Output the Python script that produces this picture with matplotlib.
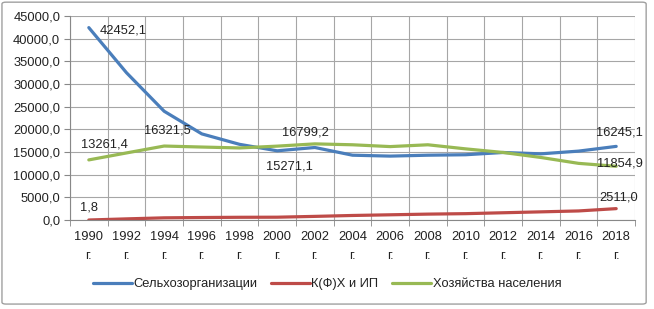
import matplotlib
matplotlib.use('Agg')
import matplotlib.pyplot as plt
from matplotlib.patches import FancyBboxPatch
import numpy as np

years = ['1990', '1992', '1994', '1996', '1998', '2000', '2002', '2004',
         '2006', '2008', '2010', '2012', '2014', '2016', '2018']
agro_orgs = [42452.1, 32500, 24000, 19000, 16700, 15271.1, 16000, 14300,
             14100, 14300, 14400, 14900, 14600, 15200, 16245.1]
farms = [1.8, 250, 480, 550, 600, 620, 800, 1000,
         1150, 1300, 1400, 1600, 1800, 2000, 2511.0]
households = [13261.4, 14800, 16321.5, 16100, 15900, 16300, 16799.2, 16600,
              16200, 16600, 15700, 14900, 13800, 12500, 11854.9]

names = ['Сельхозорганизации', 'К(Ф)Х и ИП', 'Хозяйства населения']
colors = ['#4a7ebb', '#be4b48', '#98b954']

plt.rcParams['font.family'] = ['Liberation Sans', 'DejaVu Sans']
TXT = '#222222'
fs = 9.3

fig = plt.figure(figsize=(6.54, 3.09), dpi=100)
ax = fig.add_axes([0.107, 0.288, 0.864, 0.66])

x = np.arange(len(years))
for vals, name, c in zip([agro_orgs, farms, households], names, colors):
    ax.plot(x, vals, color=c, linewidth=2.3, label=name,
            solid_joinstyle='round', solid_capstyle='round')

ax.set_xlim(-0.5, len(years) - 0.5)
ax.set_ylim(0, 45000)
ax.set_yticks(np.arange(0, 45001, 5000))
ax.set_yticklabels([f'{v:.1f}'.replace('.', ',') for v in np.arange(0, 45001, 5000)],
                   fontsize=fs, color=TXT)
ax.set_xticks(x)
ax.set_xticklabels([f'{y}\nг.' for y in years], fontsize=fs, color=TXT,
                   linespacing=1.75)
ax.tick_params(axis='x', length=0, pad=8)
ax.tick_params(axis='y', length=4, color='#888888', pad=3)

# category boundaries
ax.set_xticks(np.arange(-0.5, len(years), 1), minor=True)
ax.tick_params(axis='x', which='minor', length=4, color='#888888')
ax.grid(axis='y', color='#a6a6a6', linewidth=0.8)
ax.grid(axis='x', which='minor', color='#a6a6a6', linewidth=0.8)
ax.set_axisbelow(True)
for s in ['top', 'right']:
    ax.spines[s].set_visible(False)
for s in ['left', 'bottom']:
    ax.spines[s].set_color('#888888')
    ax.spines[s].set_linewidth(0.8)

# value labels
def lab(txt, xi, yv, dx, dy, va='bottom'):
    ax.annotate(txt, (xi, yv), xytext=(dx, dy), textcoords='offset points',
                fontsize=fs, color=TXT, ha='center', va=va)

lab('42452,1', 0, agro_orgs[0], 25, -2, 'center')
lab('13261,4', 0, households[0], 11, 7)
lab('1,8', 0, farms[0], 0, 5)
lab('16321,5', 2, households[2], 2, 7)
lab('16799,2', 6, households[6], -7, 4)
lab('15271,1', 5, agro_orgs[5], 9, -7, 'top')
lab('16245,1', 14, agro_orgs[14], 2, 6)
lab('11854,9', 14, households[14], 3, 2, 'center')
lab('2511,0', 14, farms[14], 2, 4)

leg = fig.legend(loc='center', bbox_to_anchor=(0.5, 0.08), ncol=3, frameon=False,
                 fontsize=fs, handlelength=3.0, handletextpad=0.1, columnspacing=1.1)
for t in leg.get_texts():
    t.set_color(TXT)

# outer chart border
fig.patches.append(FancyBboxPatch((0.003, 0.016), 0.985, 0.977,
                                  boxstyle='round,pad=0,rounding_size=0.006',
                                  transform=fig.transFigure, fill=False,
                                  edgecolor='#a0a0a0', linewidth=1.0))

fig.savefig('out.png', dpi=100, facecolor='white')
